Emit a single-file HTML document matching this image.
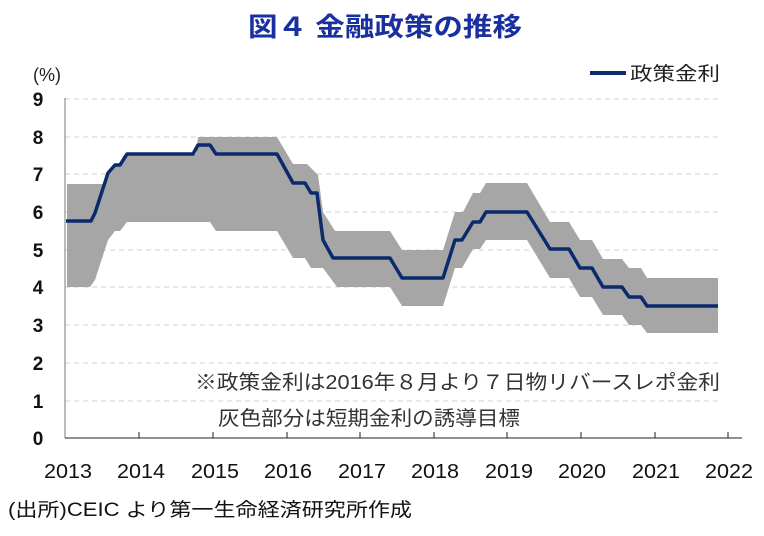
<!DOCTYPE html>
<html><head><meta charset="utf-8"><style>
body{margin:0;background:#fff;}
svg{display:block;font-family:"Liberation Sans","Noto Sans CJK JP",sans-serif;}
</style></head><body>
<svg width="764" height="536" viewBox="0 0 764 536">
<text x="248" y="36" font-size="26" font-weight="bold" fill="#1a2fa0" textLength="274" lengthAdjust="spacingAndGlyphs">図４ 金融政策の推移</text>
<text x="33" y="81" font-size="18" fill="#222">(%)</text>
<line x1="590" y1="73" x2="626" y2="73" stroke="#0a2a6b" stroke-width="4"/>
<text x="630" y="80" font-size="19" fill="#222" textLength="90" lengthAdjust="spacingAndGlyphs">政策金利</text>
<g stroke="#d0d0d0" stroke-dasharray="5,4" stroke-width="1">
<line x1="65" x2="718" y1="99" y2="99"/><line x1="65" x2="718" y1="137" y2="137"/><line x1="65" x2="718" y1="174" y2="174"/><line x1="65" x2="718" y1="212" y2="212"/><line x1="65" x2="718" y1="250" y2="250"/><line x1="65" x2="718" y1="287" y2="287"/><line x1="65" x2="718" y1="325" y2="325"/><line x1="65" x2="718" y1="363" y2="363"/><line x1="65" x2="718" y1="401" y2="401"/>
</g>
<polygon fill="#a6a6a6" points="67,184 103,184 108,173 115,165 120,165 127,154 196,154 198,137 277,137 293,164 307,164 318,175 323,212 335,231 390,231 402,250 443,250 455,212 463,212 473,193 480,193 486,183 527,183 550,222 569,222 580,240 592,240 603,259 622,259 629,268 641,268 647,278 718,278 718,333 647,333 641,325 629,325 622,315 603,315 592,297 580,297 569,278 550,278 527,240 486,240 480,249 473,249 462,268 455,268 443,306 402,306 390,287 337,287 323,268 311,268 305,258 293,258 277,231 216,231 210,222 127,222 120,231 115,231 108,240 95,280 90,287 67,287"/>
<polyline fill="none" stroke="#0a2a6b" stroke-width="3.5" stroke-linejoin="round" points="66,221 91,221 95,213 108,173 115,165 120,165 127,154 193,154 198,145 210,145 216,154 277,154 293,183 305,183 311,193 317,193 323,240 333,258 390,258 402,278 443,278 455,240 462,240 473,222 480,222 486,212 527,212 550,249 569,249 580,268 592,268 603,287 622,287 629,297 641,297 647,306 718,306"/>
<line x1="65" y1="98" x2="65" y2="438" stroke="#777" stroke-width="1"/>
<line x1="65" y1="438" x2="742" y2="438" stroke="#222" stroke-width="1"/>
<g stroke="#222"><line x1="139" x2="139" y1="432" y2="438"/><line x1="213" x2="213" y1="432" y2="438"/><line x1="287" x2="287" y1="432" y2="438"/><line x1="360" x2="360" y1="432" y2="438"/><line x1="434" x2="434" y1="432" y2="438"/><line x1="507" x2="507" y1="432" y2="438"/><line x1="581" x2="581" y1="432" y2="438"/><line x1="655" x2="655" y1="432" y2="438"/><line x1="728" x2="728" y1="432" y2="438"/></g>
<g font-size="19" fill="#111" text-anchor="middle" font-weight="bold">
<text x="38" y="106">9</text><text x="38" y="144">8</text><text x="38" y="181">7</text><text x="38" y="219">6</text><text x="38" y="257">5</text><text x="38" y="294">4</text><text x="38" y="332">3</text><text x="38" y="370">2</text><text x="38" y="408">1</text><text x="38" y="445">0</text>
</g>
<g font-size="20" fill="#111" text-anchor="middle">
<text x="68" y="478" textLength="48" lengthAdjust="spacingAndGlyphs">2013</text><text x="141" y="478" textLength="48" lengthAdjust="spacingAndGlyphs">2014</text><text x="215" y="478" textLength="48" lengthAdjust="spacingAndGlyphs">2015</text><text x="288" y="478" textLength="48" lengthAdjust="spacingAndGlyphs">2016</text><text x="362" y="478" textLength="48" lengthAdjust="spacingAndGlyphs">2017</text><text x="435" y="478" textLength="48" lengthAdjust="spacingAndGlyphs">2018</text><text x="509" y="478" textLength="48" lengthAdjust="spacingAndGlyphs">2019</text><text x="582" y="478" textLength="48" lengthAdjust="spacingAndGlyphs">2020</text><text x="656" y="478" textLength="48" lengthAdjust="spacingAndGlyphs">2021</text><text x="729" y="478" textLength="48" lengthAdjust="spacingAndGlyphs">2022</text>
</g>
<text x="195" y="389" font-size="20" fill="#333" textLength="525" lengthAdjust="spacingAndGlyphs">※政策金利は2016年８月より７日物リバースレポ金利</text>
<text x="218" y="425" font-size="20" fill="#333" textLength="302" lengthAdjust="spacingAndGlyphs">灰色部分は短期金利の誘導目標</text>
<text x="8" y="516" font-size="19" fill="#111" textLength="404" lengthAdjust="spacingAndGlyphs">(出所)CEIC より第一生命経済研究所作成</text>
</svg>
</body></html>
